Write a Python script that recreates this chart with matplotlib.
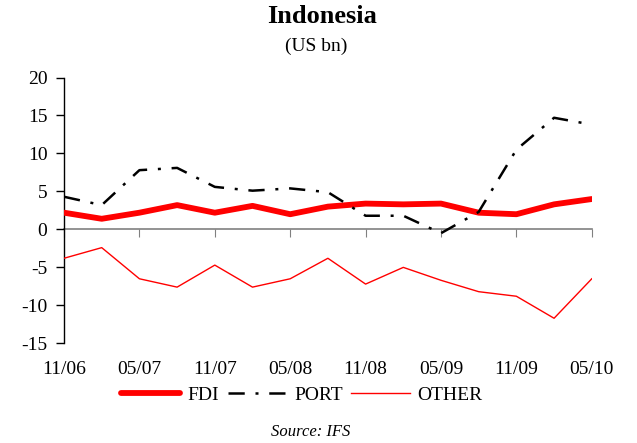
import matplotlib
matplotlib.use("Agg")
import matplotlib.pyplot as plt
from matplotlib import rcParams

rcParams['font.family'] = ['Liberation Serif', 'DejaVu Serif']
rcParams['axes.unicode_minus'] = False

# quarterly observations, 11/06 .. 05/10
quarters = ["11/06", "02/07", "05/07", "08/07", "11/07", "02/08", "05/08", "08/08",
            "11/08", "02/09", "05/09", "08/09", "11/09", "02/10", "05/10"]
fdi = [2.2, 1.4, 2.2, 3.2, 2.2, 3.1, 2.0, 3.0, 3.4, 3.3, 3.4, 2.2, 2.0, 3.3, 4.0]
port = [4.3, 3.2, 7.8, 8.1, 5.6, 5.1, 5.4, 4.9, 1.8, 1.8, -0.5, 2.3, 10.5, 14.7, 13.8]
other = [-3.8, -2.4, -6.5, -7.6, -4.7, -7.6, -6.5, -3.8, -7.2, -5.0, -6.7, -8.2, -8.8, -11.7, -6.5]
tick_labels = ["11/06", "05/07", "11/07", "05/08", "11/08", "05/09", "11/09", "05/10"]

x = list(range(len(quarters)))

fig = plt.figure(figsize=(6.37, 4.43), dpi=100)
ax = fig.add_axes([0.1005, 0.225, 0.8285, 0.6])

ax.plot(x, fdi, color='#ff0000', lw=4.2, solid_capstyle='round', label='FDI', zorder=3)
ax.plot(x, port, color='black', lw=1.8, linestyle=(0, (6.5, 4.3, 1.2, 4.3)), label='PORT', zorder=4)
ax.plot(x, other, color='#ff0000', lw=1.0, label='OTHER', zorder=3)

ax.set_xlim(0, len(quarters) - 1)
ax.set_ylim(-15, 20)
ax.set_yticks(range(-15, 21, 5))

for s in ['top', 'right']:
    ax.spines[s].set_visible(False)
ax.spines['left'].set_linewidth(1.0)
ax.spines['bottom'].set_position(('data', 0))
ax.spines['bottom'].set_color('#808080')
ax.spines['bottom'].set_linewidth(1.2)
ax.spines['bottom'].set_zorder(1)

ax.set_xticks(x[::2])
ax.tick_params(axis='x', direction='out', length=6, color='#808080', labelbottom=False)
ax.tick_params(axis='y', direction='out', length=6, width=1, pad=6, labelsize=14)

# date labels sit at the bottom of the plot, not on the zero line
sec = ax.secondary_xaxis('bottom')
sec.spines['bottom'].set_visible(False)
sec.set_xticks(x[::2], tick_labels)
sec.tick_params(length=0, pad=13, labelsize=14)

fig.text(0.505, 0.962, "Indonesia", ha='center', va='center', fontsize=19, fontweight='bold')
fig.text(0.496, 0.896, "(US bn)", ha='center', va='center', fontsize=14)

fig.legend(loc='center', bbox_to_anchor=(0.474, 0.108), ncol=3, frameon=False, fontsize=14,
           handlelength=3.0, handletextpad=0.4, columnspacing=0.45)

fig.text(0.487, 0.025, "Source: IFS", ha='center', va='center', fontsize=12, style='italic')

fig.savefig("out.png", dpi=100)
